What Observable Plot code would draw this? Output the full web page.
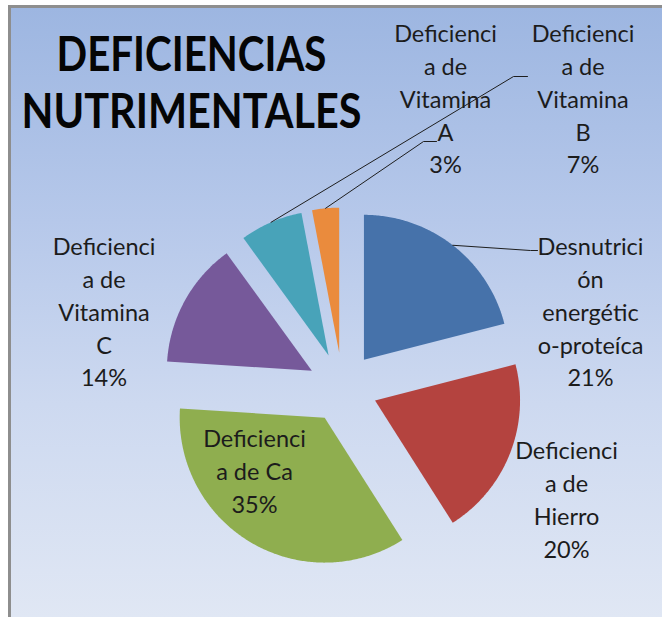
<!DOCTYPE html>
<html><head><meta charset="utf-8">
<script src="https://cdn.jsdelivr.net/npm/d3@7"></script>
<script src="https://cdn.jsdelivr.net/npm/@observablehq/plot@0.6"></script>
<style>
html,body{margin:0;padding:0;background:#fff;}
#wrap{position:relative;width:662px;height:617px;overflow:hidden;}
#panel{position:absolute;left:8px;top:5px;right:0;bottom:0;border-top:3px solid #8e8e8e;border-left:3px solid #8e8e8e;
  background:linear-gradient(to bottom,#9db6e1 0%,#b6c8ea 35%,#cdd9f0 65%,#e0e7f4 100%);}
#chart{position:absolute;left:0;top:0;}
</style></head><body>
<div id="wrap"><div id="panel"></div><div id="chart"></div></div>
<script>
// ---- data ----
const categories = ["Desnutrición energético-proteíca", "Deficiencia de Hierro", "Deficiencia de Ca",
  "Deficiencia de Vitamina C", "Deficiencia de Vitamina B", "Deficiencia de Vitamina A"];
const values = [21, 20, 35, 14, 7, 3];
const labelLines = ["Desnutrici\nón\nenergétic\no-proteíca", "Deficienci\na de\nHierro", "Deficienci\na de Ca",
  "Deficienci\na de\nVitamina\nC", "Deficienci\na de\nVitamina\nB", "Deficienci\na de\nVitamina\nA"];
const titleLines = ["DEFICIENCIAS", "NUTRIMENTALES"];

// ---- styles & layout ----
const sliceColors = ["#4672aa", "#b4433f", "#8fae4f", "#76599a", "#48a3b9", "#ea8b3d"];
const W = 662, H = 617;
const center = [342, 387], R = 145, explode = 35;
const labelFontSize = 23.5, labelLineHeight = 32.7 / 23.5;
const labelAnchor = [[590, 255], [566, 459], [254, 447], [103.5, 255], [582.5, 42], [445, 42]]; // x center, first baseline
const leaderEnd = [[[530, 250], [537, 250]], null, null, null, [[513, 76], [527, 76]], [[423, 141], [436, 141]]];
const titleX = 191, titleBaselines = [70, 127], titleWidths = [270, 340], titleFontSize = 48;

// ---- geometry ----
const rows = categories.map((c, i) => ({category: c, value: values[i], i}));
const arcs = d3.pie().sort(null).value(d => d.value)(rows);
const slicePts = [];
const leaderPts = [];
arcs.forEach((a, i) => {
  const mid = (a.startAngle + a.endAngle) / 2;
  const ox = center[0] + explode * Math.sin(mid), oy = center[1] - explode * Math.cos(mid);
  const col = sliceColors[i];
  slicePts.push({k: i, x: ox, y: oy, c: col});
  const n = Math.max(2, Math.ceil((a.endAngle - a.startAngle) / 0.01));
  for (let j = 0; j <= n; j++) {
    const t = a.startAngle + (a.endAngle - a.startAngle) * j / n;
    slicePts.push({k: i, x: ox + R * Math.sin(t), y: oy - R * Math.cos(t), c: col});
  }
  slicePts.push({k: i, x: ox, y: oy, c: col});
  if (leaderEnd[i]) {
    leaderPts.push({k: i, x: ox + R * Math.sin(mid), y: oy - R * Math.cos(mid)});
    leaderEnd[i].forEach(p => leaderPts.push({k: i, x: p[0], y: p[1]}));
  }
});
const labels = rows.map((d, i) => ({
  text: labelLines[i] + "\n" + d.value + "%",
  x: labelAnchor[i][0],
  y: labelAnchor[i][1] - 0.71 * labelLineHeight * labelFontSize
}));
const titles = titleLines.map((t, i) => ({text: t, x: titleX, y: titleBaselines[i]}));

const plot = Plot.plot({
  width: W, height: H, margin: 0,
  x: {domain: [0, W], range: [0, W], axis: null},
  y: {domain: [0, H], range: [0, H], axis: null},
  style: {background: "transparent", fontFamily: "Lato, sans-serif", overflow: "visible"},
  marks: [
    Plot.line(slicePts, {x: "x", y: "y", z: "k", fill: "c", stroke: "none", curve: "linear"}),
    Plot.line(leaderPts, {x: "x", y: "y", z: "k", stroke: "#1e1e1e", strokeWidth: 1, curve: "linear"}),
    Plot.text(labels, {x: "x", y: "y", text: "text", lineAnchor: "top", fontSize: labelFontSize,
      lineHeight: labelLineHeight, fill: "#1c1c1c", textAnchor: "middle"}),
    Plot.text(titles, {x: "x", y: "y", text: "text", lineAnchor: "bottom", fontSize: titleFontSize,
      fontWeight: "bold", fill: "#050505", textAnchor: "middle"})
  ]
});
document.getElementById("chart").appendChild(plot);
// condense the title lines to the reference widths (narrower font, taller glyphs)
plot.querySelectorAll("text").forEach(t => {
  const k = titleLines.indexOf(t.textContent);
  if (k >= 0) {
    const natural = t.getComputedTextLength();
    const s = titleWidths[k] / natural;
    t.setAttribute("font-size", titleFontSize * s);
    t.style.fontSize = (titleFontSize * s) + "px";
    const tr = t.getAttribute("transform") || "";
    t.setAttribute("transform", tr + ` scale(1,${1 / s})`);
  }
});
</script>
</body></html>
